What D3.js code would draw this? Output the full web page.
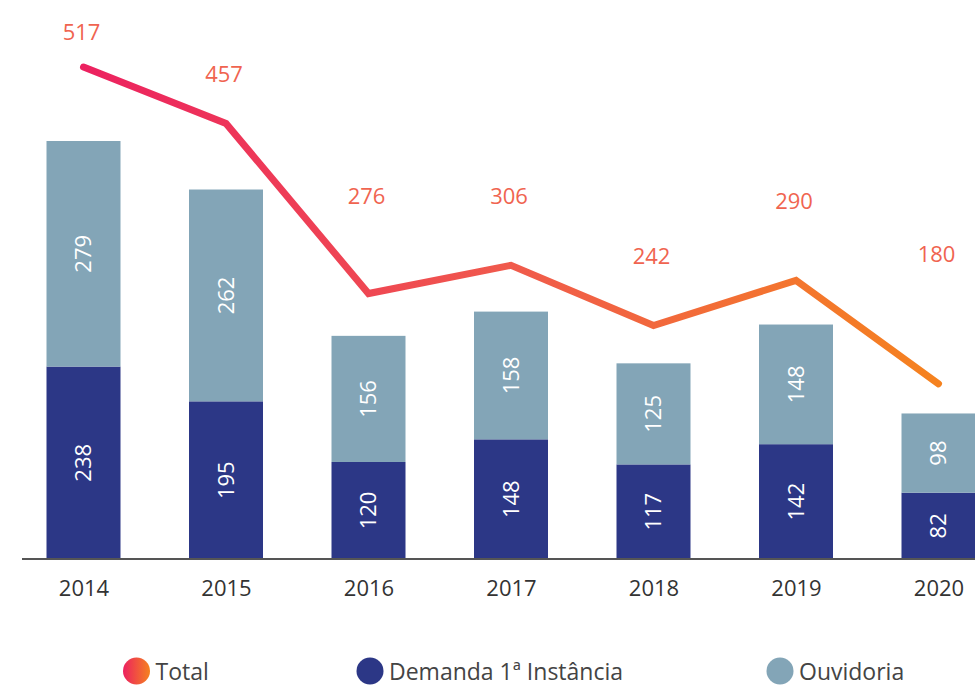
<!DOCTYPE html>
<html>
<head>
<meta charset="utf-8">
<script src="https://cdn.jsdelivr.net/npm/d3@7"></script>
<style>
  body { margin: 0; background: #fff; }
  svg { display: block; font-family: "Open Sans", sans-serif; }
</style>
</head>
<body>
<div id="chart"></div>
<script>
// data
const years = ["2014", "2015", "2016", "2017", "2018", "2019", "2020"];
const demanda = [238, 195, 120, 148, 117, 142, 82];
const ouvidoria = [279, 262, 156, 158, 125, 148, 98];
const total = [517, 457, 276, 306, 242, 290, 180];
const seriesNames = ["Total", "Demanda 1ª Instância", "Ouvidoria"];

const width = 975;
const height = 687;

const colDemanda = "#2c3786";
const colOuvidoria = "#83a5b7";

const svg = d3.select("#chart")
  .append("svg")
  .attr("width", width)
  .attr("height", height);

const defs = svg.append("defs");
const grad = defs.append("linearGradient")
  .attr("id", "lineGrad")
  .attr("gradientUnits", "userSpaceOnUse")
  .attr("x1", 83).attr("x2", 935).attr("y1", 0).attr("y2", 0);
grad.append("stop").attr("offset", "0%").attr("stop-color", "#ec2160");
grad.append("stop").attr("offset", "50%").attr("stop-color", "#f05a4c");
grad.append("stop").attr("offset", "100%").attr("stop-color", "#f5821f");

const legGrad = defs.append("linearGradient")
  .attr("id", "legGrad")
  .attr("x1", "0%").attr("x2", "100%");
legGrad.append("stop").attr("offset", "0%").attr("stop-color", "#ec2160");
legGrad.append("stop").attr("offset", "100%").attr("stop-color", "#f5821f");

// scales
const x = d3.scalePoint()
  .domain(years)
  .range([83.5, 938.5]);

const barW = 74;

const y = d3.scaleLinear()
  .domain([0, 517])
  .range([559, 141]);

// the total line uses its own scale
const yLine = d3.scaleLinear()
  .domain([0, 517])
  .range([553, 67]);

const rows = years.map((yr, i) => ({ year: yr, demanda: demanda[i], ouvidoria: ouvidoria[i], total: total[i] }));
const stack = d3.stack().keys(["demanda", "ouvidoria"])(rows);
const colors = { demanda: colDemanda, ouvidoria: colOuvidoria };

// bars
const layers = svg.append("g")
  .selectAll("g")
  .data(stack)
  .join("g")
    .attr("fill", d => colors[d.key]);

layers.selectAll("rect")
  .data(d => d)
  .join("rect")
    .attr("x", d => x(d.data.year) - barW / 2)
    .attr("y", d => y(d[1]))
    .attr("width", barW)
    .attr("height", d => y(d[0]) - y(d[1]));

// values inside bars (rotated)
layers.selectAll("text")
  .data(d => d.map(s => ({ s: s, key: d.key })))
  .join("text")
    .attr("transform", d => {
      const cx = x(d.s.data.year);
      const cy = (y(d.s[0]) + y(d.s[1])) / 2;
      return `translate(${cx},${cy}) rotate(-90)`;
    })
    .attr("text-anchor", "middle")
    .attr("dy", "0.36em")
    .attr("fill", "#fff")
    .attr("font-size", "22px")
    .text(d => d.s.data[d.key]);

// x axis
const xAxis = svg.append("g")
  .attr("transform", "translate(0,559)")
  .call(d3.axisBottom(x).tickSize(0).tickPadding(21));
xAxis.select(".domain").remove();
xAxis.selectAll("text")
  .attr("font-size", "22px")
  .attr("font-family", "Open Sans, sans-serif")
  .attr("fill", "#333");

svg.append("line")
  .attr("x1", 22).attr("x2", width)
  .attr("y1", 559).attr("y2", 559)
  .attr("stroke", "#555")
  .attr("stroke-width", 2);

// total line
const line = d3.line()
  .x((d, i) => x(years[i]))
  .y(d => yLine(d));

svg.append("path")
  .datum(total)
  .attr("d", line)
  .attr("fill", "none")
  .attr("stroke", "url(#lineGrad)")
  .attr("stroke-width", 7)
  .attr("stroke-linecap", "round")
  .attr("stroke-linejoin", "miter");

// total labels, lifted above the line point
const labelLift = [27, 41, 90, 61, 62, 71, 122];
svg.append("g")
  .selectAll("text")
  .data(total)
  .join("text")
    .attr("x", (d, i) => x(years[i]) - 2)
    .attr("y", (d, i) => yLine(d) - labelLift[i])
    .attr("text-anchor", "middle")
    .attr("font-size", "22px")
    .attr("fill", "#f06450")
    .text(d => d);

// legend
const legendX = [136.5, 370, 780];
const legendFill = ["url(#legGrad)", colDemanda, colOuvidoria];
const legend = svg.append("g")
  .selectAll("g")
  .data(seriesNames)
  .join("g")
    .attr("transform", (d, i) => `translate(${legendX[i]},671)`);

legend.append("circle")
  .attr("r", 13.5)
  .attr("fill", (d, i) => legendFill[i]);

legend.append("text")
  .attr("x", 19)
  .attr("y", 9)
  .attr("font-size", "23px")
  .attr("fill", "#444")
  .text(d => d);
</script>
</body>
</html>
